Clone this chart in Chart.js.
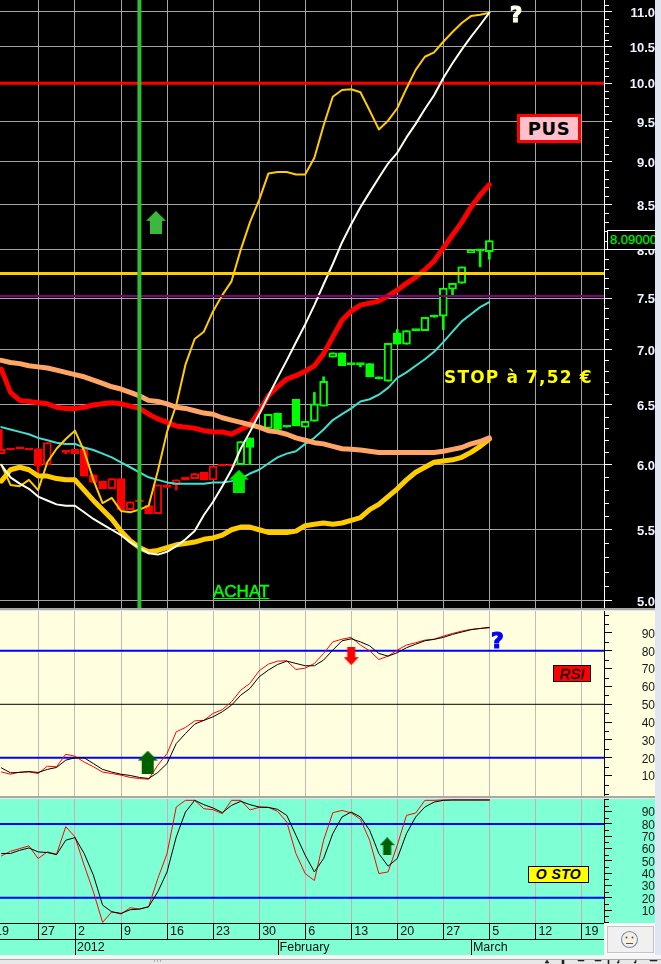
<!DOCTYPE html>
<html lang="en">
<head>
<meta charset="UTF-8">
<title>PUS</title>
<script src="https://cdn.jsdelivr.net/npm/chart.js@4"></script>
<style>
  html, body { margin: 0; padding: 0; background: #dfe6f2; overflow: hidden; }
  #page { position: relative; width: 661px; height: 964px; overflow: hidden; font-family: "Liberation Sans", Arial, sans-serif; }
  canvas { position: absolute; left: 0; display: block; }
  .sep { position: absolute; left: 0; width: 655px; height: 3px; background: #a8a8a8; border-bottom: 1px solid #e6e6e6; box-sizing: border-box; }
  .note { position: absolute; white-space: nowrap; line-height: 1; }
  #pus { left: 517px; top: 114px; width: 64px; height: 29px; box-sizing: border-box; border: 3px solid #ff0000; background: #ffc0cb; color: #000; font: bold 18px "DejaVu Sans", sans-serif; letter-spacing: .6px; line-height: 23px; text-align: center; }
  #stop { left: 444px; top: 367px; color: #ffff00; font: bold 17px "DejaVu Sans", sans-serif; letter-spacing: 1.15px; }
  #achat { left: 213px; top: 582px; color: #00ff00; font: 17px "Liberation Sans", sans-serif; -webkit-text-stroke: .5px #00ff00; text-decoration: underline; }
  #q1 { left: 510px; top: 3px; color: #fffff0; font: bold 21px "DejaVu Sans", sans-serif; -webkit-text-stroke: 1.2px #fffff0; }
  #q2 { left: 491px; top: 628px; color: #0000ff; font: bold 22px "DejaVu Sans", sans-serif; -webkit-text-stroke: 1.2px #0000ff; }
  #last { left: 607px; top: 230px; width: 48px; height: 20px; box-sizing: border-box; border: 1px solid #fff; border-right: 0; background: #000; color: #00f000; font: 13px "Liberation Sans", sans-serif; -webkit-text-stroke: .25px #00f000; line-height: 18px; overflow: hidden; padding-left: 2px; }
  #rsi { left: 553px; top: 665px; width: 38px; height: 17px; box-sizing: border-box; border: 1px solid #000; background: #ff0000; color: #000; font: italic 15px "Liberation Sans", sans-serif; -webkit-text-stroke: .3px #000; line-height: 15px; text-align: center; }
  #osto { left: 528px; top: 866px; width: 61px; height: 17px; box-sizing: border-box; border: 1px solid #000; background: #ffff00; color: #000; font: italic bold 14px "Liberation Sans", sans-serif; letter-spacing: .4px; line-height: 15px; text-align: center; }
  #corner { position: absolute; left: 604px; top: 923px; width: 51px; height: 33px; background: #fafafa; }
  #smile { position: absolute; left: 3px; top: 3px; width: 45px; height: 25px; border: 1px solid #c4c4c4; background: #f0f0f0; }
  #gap { position: absolute; left: 0; top: 955px; width: 661px; height: 4px; background: #f6f6f6; }
  #toolbar { position: absolute; left: 0; top: 959px; width: 661px; height: 5px; background: #e8e8e8; border-top: 1px solid #a8a8a8; box-sizing: border-box; }
</style>
</head>
<body>
<div id="page">
  <canvas id="priceChart" width="655" height="608" style="top:0;background:#000"></canvas>
  <div class="sep" style="top:608px"></div>
  <canvas id="rsiChart" width="655" height="185" style="top:611px;background:#ffffe0"></canvas>
  <div class="sep" style="top:796px"></div>
  <canvas id="stoChart" width="655" height="156" style="top:799px;background:#7fffd4"></canvas>

  <div class="note" id="q1">?</div>
  <div class="note" id="pus">PUS</div>
  <div class="note" id="last">8.09000</div>
  <div class="note" id="stop">STOP à 7,52 €</div>
  <div class="note" id="achat">ACHAT</div>
  <div class="note" id="q2">?</div>
  <div class="note" id="rsi">RSI</div>
  <div class="note" id="osto">O STO</div>

  <div id="corner">
    <div id="smile">
      <svg width="45" height="25" viewBox="0 0 45 25">
        <circle cx="21.5" cy="12.5" r="8" fill="#f6efe0" stroke="#6f8fb0" stroke-width="1.1"/>
        <circle cx="18.5" cy="10.5" r="1" fill="#555"/>
        <circle cx="24.5" cy="10.5" r="1" fill="#555"/>
        <path d="M18 16.5 H25" stroke="#555" stroke-width="1"/>
      </svg>
    </div>
  </div>
  <div id="gap"></div>
  <div id="toolbar">
    <svg width="661" height="4" viewBox="0 0 661 4" style="display:block">
      <path d="M154 1h1M157 1h1M160 1h1M545 3l2-3l2 3zM562 0h2v4h-2zM578 0h6v1h-6zM595 0h6v1h-6zM608 0h1v4h-1zM617 3l2-3v3zM634 3l2 0v-3zM650 0h7v1h-7z" fill="#222" stroke="#222" stroke-width=".6"/>
    </svg>
  </div>
</div>

<script>
// trading day 0 is 20 Dec 2011, one step per session
const xMin = -0.14;
const xMax = 65.45;

const weekDays = [-1, 4, 8, 13, 18, 23, 28, 33, 38, 43, 48, 53, 58, 63];
const weekLabels = ['19', '27', '2', '9', '16', '23', '30', '6', '13', '20', '27', '5', '12', '19'];
const monthDays = [8, 30, 51];
const monthLabels = ['2012', 'February', 'March'];

const priceLabels = [5.0, 5.5, 6.0, 6.5, 7.0, 7.5, 8.0, 8.5, 9.0, 9.5, 10.0, 10.5, 11.0];
const rsiLabels = [10, 20, 30, 40, 50, 60, 70, 80, 90];
const stoLabels = [10, 20, 30, 40, 50, 60, 70, 80, 90];

// candles, null where there was no session drawn
const open  = [6.09,6.13,6.14,6.13,6.13,6.00,null,6.11,6.125,6.13,5.92,5.87,5.81,5.89,5.65,5.72,5.68,5.62,5.84,5.84,5.90,5.89,5.94,5.88,6.00,6.00,6.00,6.22,null,6.30,6.43,6.32,6.55,6.31,6.36,6.49,6.93,6.97,6.87,6.87,6.87,6.75,6.71,7.16,7.05,7.19,7.18,7.33,7.32,7.59,7.65,7.97,8.00,7.98];
const close = [6.125,6.12,6.13,6.12,5.99,6.18,null,6.10,6.09,5.91,5.86,5.81,5.89,5.65,5.71,5.71,5.62,5.84,5.82,5.88,5.88,5.93,5.88,5.99,5.99,5.99,6.19,6.14,null,6.42,6.29,6.31,6.32,6.36,6.51,6.71,6.97,6.85,6.86,6.86,6.75,6.73,7.06,7.05,7.18,7.18,7.31,7.31,7.60,7.65,7.82,8.00,7.99,8.10];
const high  = [6.29,6.13,6.14,6.13,6.13,6.18,null,6.11,6.125,6.13,5.92,5.87,5.89,5.89,5.71,5.72,5.68,5.84,5.84,5.88,5.90,5.93,5.94,5.99,6.00,6.00,6.19,6.22,null,6.42,6.43,6.32,6.55,6.36,6.61,6.75,6.97,6.97,6.87,6.87,6.87,6.75,7.06,7.19,7.18,7.19,7.31,7.33,7.60,7.65,7.82,8.00,8.00,8.10];
const low   = [6.09,6.12,6.13,6.12,5.94,6.00,null,6.09,6.09,5.91,5.86,5.81,5.81,5.65,5.65,5.69,5.62,5.62,5.82,5.80,5.88,5.89,5.88,5.88,5.99,5.99,6.00,6.00,null,6.30,6.29,6.31,6.32,6.31,6.36,6.49,6.93,6.85,6.86,6.84,6.75,6.73,6.71,7.05,7.05,7.18,7.18,7.31,7.19,7.53,7.65,7.97,7.82,7.90];
const lastRedCandle = 25;

const ma20 = [6.82,6.61,6.54,6.53,6.52,6.51,6.48,6.47,6.47,6.48,6.50,6.51,6.52,6.51,6.49,6.47,6.42,6.38,6.35,6.32,6.31,6.30,6.28,6.27,6.27,6.25,6.29,6.33,6.44,6.58,6.66,6.73,6.76,6.80,6.85,6.96,7.12,7.28,7.37,7.43,7.45,7.47,7.52,7.58,7.65,7.71,7.79,7.88,8.02,8.16,8.30,8.47,8.61,8.73];
const maLong = [6.90,6.88,6.87,6.85,6.84,6.83,6.81,6.79,6.77,6.75,6.72,6.69,6.66,6.64,6.61,6.58,6.54,6.53,6.51,6.48,6.47,6.45,6.43,6.42,6.39,6.37,6.35,6.33,6.31,6.28,6.27,6.25,6.22,6.20,6.18,6.17,6.15,6.13,6.125,6.12,6.11,6.10,6.10,6.10,6.10,6.10,6.10,6.10,6.11,6.125,6.14,6.17,6.19,6.22];
const goldThick = [5.87,5.96,5.98,5.96,5.91,5.91,5.89,5.88,5.88,5.80,5.72,5.65,5.58,5.49,5.42,5.37,5.34,5.35,5.37,5.39,5.40,5.41,5.43,5.44,5.46,5.50,5.52,5.52,5.50,5.48,5.48,5.48,5.49,5.53,5.54,5.55,5.54,5.55,5.57,5.59,5.65,5.69,5.75,5.81,5.88,5.94,5.98,6.02,6.03,6.04,6.06,6.10,6.15,6.21];
const bandUpper = [6.00,5.84,5.83,5.88,5.80,6.02,6.13,6.21,6.28,6.11,5.88,5.70,5.74,5.64,5.63,5.65,5.68,5.95,6.27,6.50,6.86,7.10,7.17,7.37,7.53,7.67,8.00,8.30,8.55,8.86,8.88,8.88,8.85,8.85,9.05,9.45,9.82,9.91,9.92,9.88,9.64,9.40,9.51,9.67,9.93,10.18,10.36,10.42,10.57,10.71,10.84,10.94,10.96,10.99];
const bandLower = [6.00,5.90,5.85,5.81,5.75,5.72,5.69,5.68,5.68,5.63,5.58,5.54,5.50,5.46,5.41,5.37,5.33,5.32,5.34,5.38,5.43,5.49,5.61,5.71,5.83,5.96,6.13,6.27,6.42,6.58,6.74,6.90,7.07,7.24,7.43,7.64,7.85,8.08,8.28,8.47,8.64,8.81,8.98,9.11,9.30,9.47,9.66,9.84,10.07,10.27,10.46,10.64,10.81,10.99];
const turquoise = [6.31,6.29,6.27,6.25,6.22,6.20,6.18,6.17,6.17,6.14,6.12,6.09,6.06,6.02,5.98,5.94,5.90,5.88,5.86,5.85,5.85,5.85,5.85,5.86,5.86,5.87,5.89,5.93,5.96,6.01,6.06,6.09,6.11,6.17,6.22,6.29,6.37,6.42,6.47,6.53,6.55,6.59,6.65,6.74,6.79,6.85,6.91,6.98,7.07,7.17,7.27,7.34,7.41,7.46];

const resistance = 10.0;
const stopHigh = 7.75;
const stopLow = 7.52;
const buyDay = 15;

const rsiFast = [12.1,10.8,12,12.1,11.2,15.3,15,22,20.9,17.6,15,12,11.2,10.3,9,8.4,8,15.9,22.4,34.6,37,40.7,41,44.9,47,51.4,57.9,61.7,68.8,72.5,74.2,74.4,69.5,70.3,72.9,78.5,85,86.5,87.5,83.2,80,75.1,77,80.4,83.2,84.5,86,86.5,88.2,89.7,91,92,92.5,92.9];
const rsiSlow = [14.4,11.6,11.8,12.3,11.8,13.5,14.6,18.7,20,20,16.8,13.5,12,10.8,10.1,9,8.4,11.8,16.8,28,33.6,38.9,41,43,45.8,49.5,55.1,58.9,65.4,69.2,72.3,74.2,72.9,71.6,71.6,74.8,80.4,85.6,86.7,85,82.8,78.5,77,78.9,81.7,83.7,85.6,86.4,87.5,89.2,90.5,91.8,92.5,93.1];
const stoFast = [54,57.8,60,62.2,51.9,57.3,55.4,77.8,69.5,46.5,24.9,0,8.6,6.8,11.9,10.8,12.7,35.7,55.9,93.8,99.2,99.2,92.4,91.6,88.4,99.2,99.2,91.4,93.5,93.5,90.3,81.6,55.9,39.7,34,66.8,89.2,91,89,83.8,66.8,39.7,41,62.7,87,88.9,99.2,99.2,99.5,99.5,99.5,99.5,99.5,99.5];
const stoSlow = [56,56,58.6,60.5,57.3,56.8,55.1,66.8,68.9,56,38.4,14,8.6,7.3,10.3,10.8,12.7,24.9,41,69.5,89.7,99.2,95.7,93,89.2,95.1,98.4,95.7,93.8,93.5,91.9,87,70.8,54.6,41,51.9,72.2,85.7,89.7,85.7,74.9,55.9,45.7,51.9,72.2,85.7,93.8,97.8,99.2,99.5,99.5,99.5,99.5,99.5];

const buyArrow = [{ x: 16.8, y: 8.30 }];
const priceUpArrows = [{ x: 25.8, y: 5.87 }];
const rsiUpArrows = [{ x: 15.9, y: 17.6 }];
const rsiDownArrows = [{ x: 38, y: 77 }];
const stoUpArrows = [{ x: 41.9, y: 61.9 }];

function series(values) {
    return values.map((v, i) => ({ x: i, y: v }));
}

function line(values, color, width, order) {
    return { type: 'line', data: series(values), borderColor: color, borderWidth: width, pointRadius: 0, order: order, borderJoinStyle: 'round', borderCapStyle: 'round', tension: 0 };
}

function hline(value, color, width, order) {
    return { type: 'line', data: [{ x: xMin, y: value }, { x: xMax, y: value }], borderColor: color, borderWidth: width, pointRadius: 0, order: order };
}

function arrowImage(w, h, color, up) {
    const c = document.createElement('canvas');
    c.width = w;
    c.height = h;
    const g = c.getContext('2d');
    if (!up) { g.translate(0, h); g.scale(1, -1); }
    const head = Math.round(h * 0.42);
    const stem = Math.round(w * 0.28);
    g.fillStyle = color;
    g.beginPath();
    g.moveTo(w / 2, 0);
    g.lineTo(w, head);
    g.lineTo(w / 2 + stem, head);
    g.lineTo(w / 2 + stem, h);
    g.lineTo(w / 2 - stem, h);
    g.lineTo(w / 2 - stem, head);
    g.lineTo(0, head);
    g.closePath();
    g.fill();
    return c;
}

function arrows(points, image) {
    return { type: 'scatter', data: points, pointStyle: image, pointRadius: 10, order: 0 };
}

function candleColor(i) {
    return i <= lastRedCandle ? '#ff0000' : '#00ff00';
}

function wickData() {
    return open.map((o, i) => ({ x: i, y: o === null ? null : [low[i], high[i]] }));
}

function bodyData() {
    return open.map((o, i) => ({ x: i, y: o === null ? null : [o, close[i]] }));
}

const priceDatasets = [
    { type: 'bar', data: wickData(), barThickness: 2, grouped: false, backgroundColor: c => candleColor(c.dataIndex), order: 20 },
    { type: 'bar', data: bodyData(), barThickness: 8, grouped: false, minBarLength: 2, borderSkipped: false, borderWidth: 2,
      borderColor: c => candleColor(c.dataIndex),
      backgroundColor: c => close[c.dataIndex] > open[c.dataIndex] ? '#000000' : candleColor(c.dataIndex),
      order: 19 },
    hline(resistance, '#ff0000', 3, 18),
    line(turquoise, '#40e0d0', 2, 17),
    line(ma20, '#ff0000', 5, 16),
    line(goldThick, '#ffcc00', 5, 15),
    line(bandUpper, '#ffcc00', 2, 14),
    line(maLong, '#ffa566', 5, 13),
    line(bandLower, '#fffff0', 2, 12),
    hline(stopLow, '#800080', 2, 11),
    hline(stopHigh, '#ffcc00', 3, 10),
    { type: 'line', data: [{ x: buyDay, y: 4.9 }, { x: buyDay, y: 11.3 }], borderColor: '#33bb33', borderWidth: 4, pointRadius: 0, order: 9 },
    arrows(buyArrow, arrowImage(20, 23, '#3cb83c', true)),
    arrows(priceUpArrows, arrowImage(20, 23, '#00e800', true))
];

const rsiDatasets = [
    hline(80, '#0000ff', 2, 9),
    hline(20, '#0000ff', 2, 9),
    hline(50, '#000000', 1, 9),
    line(rsiFast, '#ff0000', 1, 5),
    line(rsiSlow, '#000000', 1, 4),
    arrows(rsiUpArrows, arrowImage(20, 23, '#006000', true)),
    arrows(rsiDownArrows, arrowImage(15, 18, '#ff0000', false))
];

const stoDatasets = [
    hline(80, '#0000ff', 2, 9),
    hline(20, '#0000ff', 2, 9),
    line(stoFast, '#ff0000', 1, 5),
    line(stoSlow, '#000000', 1, 4),
    arrows(stoUpArrows, arrowImage(15, 18, '#006000', true))
];

// short ticks between the labelled ones
function minorTicks(color) {
    return {
        id: 'minorTicks',
        afterDraw(chart) {
            const s = chart.scales.y;
            const g = chart.ctx;
            g.save();
            g.strokeStyle = color;
            g.lineWidth = 1;
            g.beginPath();
            s.ticks.forEach(t => {
                if (t.major) return;
                const y = Math.round(s.getPixelForValue(t.value)) + 0.5;
                g.moveTo(s.left, y);
                g.lineTo(s.left + 5, y);
            });
            g.stroke();
            g.restore();
        }
    };
}

// the two rows of dates under the last panel
const dateStrip = {
    id: 'dateStrip',
    afterDraw(chart) {
        const a = chart.chartArea;
        const x = chart.scales.x;
        const g = chart.ctx;
        const row1 = a.bottom + 16;
        const row2 = a.bottom + 32;
        g.save();
        g.strokeStyle = '#000';
        g.lineWidth = 1;
        g.beginPath();
        g.moveTo(0, a.bottom + 0.5); g.lineTo(a.right, a.bottom + 0.5);
        g.moveTo(0, row1 + 0.5); g.lineTo(a.right, row1 + 0.5);
        weekDays.forEach(d => {
            const p = Math.round(x.getPixelForValue(d)) + 0.5;
            g.moveTo(p, a.bottom); g.lineTo(p, row1);
        });
        monthDays.forEach(d => {
            const p = Math.round(x.getPixelForValue(d)) + 0.5;
            g.moveTo(p, row1); g.lineTo(p, row2);
        });
        g.stroke();
        g.fillStyle = '#101010';
        g.font = '12.5px "Liberation Sans", Arial, sans-serif';
        g.textBaseline = 'middle';
        weekDays.forEach((d, i) => g.fillText(weekLabels[i], x.getPixelForValue(d) + 3, a.bottom + 9));
        monthDays.forEach((d, i) => g.fillText(monthLabels[i], x.getPixelForValue(d) + 2, row1 + 9));
        g.restore();
    }
};

function makePanel(id, datasets, cfg) {
    return new Chart(document.getElementById(id), {
        type: 'line',
        data: { datasets: datasets },
        plugins: cfg.plugins,
        options: {
            responsive: false,
            animation: false,
            devicePixelRatio: 1,
            layout: { autoPadding: false, padding: { left: 0, right: 0, top: 0, bottom: cfg.bottom || 0 } },
            plugins: { legend: { display: false }, title: { display: false }, tooltip: { enabled: false } },
            scales: {
                x: {
                    type: 'linear',
                    min: xMin,
                    max: xMax,
                    offset: false,
                    afterBuildTicks: s => { s.ticks = weekDays.filter(d => d >= xMin && d <= xMax).map(d => ({ value: d })); },
                    afterFit: s => { s.height = 0; s.paddingLeft = 0; s.paddingRight = 0; },
                    ticks: { display: false },
                    border: { display: false },
                    grid: { color: cfg.gridColor, lineWidth: 1, drawTicks: false, offset: false }
                },
                y: {
                    type: cfg.type,
                    position: 'right',
                    min: cfg.min,
                    max: cfg.max,
                    afterBuildTicks: s => { s.ticks = cfg.ticks.map(t => ({ value: t.value, major: t.major })); },
                    afterFit: s => { s.width = 51; s.paddingTop = 0; s.paddingBottom = 0; },
                    border: { color: cfg.axisColor, width: 1 },
                    grid: {
                        tickLength: 8,
                        color: c => (cfg.hGrid && c.tick && c.tick.major) ? cfg.gridColor : 'rgba(0,0,0,0)',
                        tickColor: c => (c.tick && c.tick.major) ? cfg.axisColor : 'rgba(0,0,0,0)'
                    },
                    ticks: {
                        autoSkip: false,
                        maxRotation: 0,
                        crossAlign: 'far',
                        padding: cfg.padding,
                        labelOffset: 1.5,
                        color: cfg.labelColor,
                        font: cfg.font,
                        callback: function (v, i, ticks) { return ticks[i].major ? cfg.format(v) : ''; }
                    }
                }
            }
        }
    });
}

function tickList(first, last, step, labels) {
    const out = [];
    const n = Math.round((last - first) / step);
    for (let i = 0; i <= n; i++) {
        const value = +(first + i * step).toFixed(2);
        out.push({ value: value, major: labels.includes(value) });
    }
    return out;
}

makePanel('priceChart', priceDatasets, {
    type: 'logarithmic',
    min: 4.953,
    max: 11.178,
    ticks: tickList(5, 11.1, 0.1, priceLabels),
    hGrid: true,
    gridColor: '#a4a4a4',
    axisColor: '#ffffff',
    labelColor: '#eef3ff',
    padding: 7,
    font: { family: '"Liberation Sans", Arial, sans-serif', size: 13, weight: 'bold' },
    format: v => v.toFixed(1),
    plugins: [minorTicks('#ffffff')]
});

makePanel('rsiChart', rsiDatasets, {
    type: 'linear',
    min: -1.4,
    max: 102.3,
    ticks: tickList(0, 100, 5, rsiLabels),
    gridColor: '#bcbcbc',
    axisColor: '#000000',
    labelColor: '#181818',
    padding: 16,
    font: { family: '"Liberation Sans", Arial, sans-serif', size: 12 },
    format: v => String(v),
    plugins: [minorTicks('#000000')]
});

makePanel('stoChart', stoDatasets, {
    type: 'linear',
    min: -0.5,
    max: 100.3,
    bottom: 32,
    ticks: tickList(0, 100, 5, stoLabels),
    gridColor: '#d0aab8',
    axisColor: '#000000',
    labelColor: '#181818',
    padding: 16,
    font: { family: '"Liberation Sans", Arial, sans-serif', size: 12 },
    format: v => String(v),
    plugins: [minorTicks('#000000'), dateStrip]
});
</script>
</body>
</html>
